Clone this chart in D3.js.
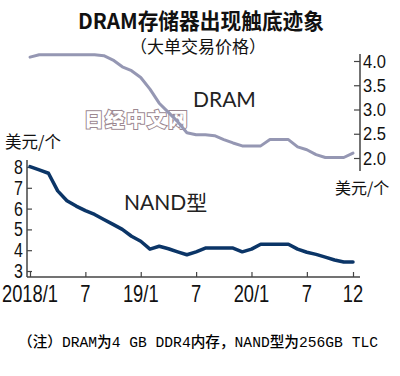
<!DOCTYPE html>
<html><head><meta charset="utf-8">
<script src="https://cdn.jsdelivr.net/npm/d3@7"></script>
<style>
body{margin:0;background:#fff;}
svg{display:block;}
.cond{font-family:"Liberation Sans",Arial,sans-serif;}
</style></head>
<body>
<script>
// ---- data ----
const months = d3.range(36); // 2018/1 .. 2020/12 (month index)
const dramValues = [4.08,4.13,4.13,4.13,4.13,4.13,4.13,4.13,4.11,4.02,3.88,3.80,3.66,3.42,3.13,2.94,2.75,2.52,2.48,2.48,2.46,2.38,2.31,2.25,2.25,2.25,2.38,2.38,2.38,2.23,2.17,2.07,2.01,2.01,2.01,2.10];
const nandValues = [8.02,7.86,7.70,6.85,6.38,6.12,5.90,5.72,5.48,5.24,5.00,4.67,4.43,4.05,4.19,4.07,3.92,3.78,3.92,4.10,4.10,4.10,4.10,3.92,4.05,4.29,4.29,4.29,4.29,4.05,3.90,3.80,3.67,3.53,3.43,3.43];
const xTickIdx = [0,6,12,18,24,30,35];
const xTickLabels = ["2018/1","7","19/1","7","20/1","7","12"];
const nandTicks = [3,4,5,6,7,8];
const dramTicks = [2.0,2.5,3.0,3.5,4.0];

const W = 400, H = 376;
const svg = d3.select("body").append("svg").attr("width", W).attr("height", H);
svg.append("rect").attr("width", W).attr("height", H).attr("fill", "#fff");

const x = d3.scaleLinear().domain([0, 35]).range([30, 353]);
const yN = d3.scaleLinear().domain([3, 8]).range([271, 167]);
const yD = d3.scaleLinear().domain([2, 4]).range([158, 61]);

// titles
svg.append("text").attr("x", 78).attr("y", 29)
  .attr("font-family", "Noto Sans CJK SC, sans-serif").attr("font-weight", "bold")
  .attr("font-size", 21.5).attr("fill", "#111").attr("textLength", 246).attr("lengthAdjust", "spacingAndGlyphs")
  .text("DRAM存储器出现触底迹象");
svg.append("text").attr("x", 198).attr("y", 53).attr("text-anchor", "middle")
  .attr("font-family", "Noto Sans CJK SC, sans-serif")
  .attr("font-size", 17).attr("fill", "#111").text("（大单交易价格）");

// watermark
svg.append("text").attr("x", 84).attr("y", 127)
  .attr("font-family", "Noto Sans CJK SC, sans-serif").attr("font-weight", 900)
  .attr("font-size", 19.5).attr("letter-spacing", 1.5)
  .attr("fill", "#ffffff").attr("stroke", "#9c8891").attr("stroke-width", 2)
  .attr("paint-order", "stroke").text("日经中文网");

// x axis (bottom)
const xAxis = d3.axisBottom(x).tickValues(xTickIdx).tickSize(-5).tickPadding(0).tickFormat("");
const gx = svg.append("g").attr("transform", "translate(0,277)").call(xAxis);
gx.select(".domain").attr("d", "M27,0H360").attr("stroke", "#444").attr("stroke-width", 1.5);
gx.selectAll(".tick line").attr("stroke", "#444").attr("stroke-width", 1.2);
svg.append("g").selectAll("text").data(xTickIdx).join("text")
  .attr("class", "cond").attr("transform", d => `translate(${x(d)},302) scale(0.78,1)`)
  .attr("text-anchor", "middle").attr("font-size", 23.5).attr("fill", "#111")
  .text((d, i) => xTickLabels[i]);

// left axis (NAND)
const gl = svg.append("g").attr("transform", "translate(27,0)")
  .call(d3.axisRight(yN).tickValues(nandTicks).tickSize(5).tickFormat(""));
gl.select(".domain").attr("d", "M0,160V277").attr("stroke", "#444").attr("stroke-width", 1.5);
gl.selectAll(".tick line").attr("stroke", "#444").attr("stroke-width", 1.2);
svg.append("g").selectAll("text").data(nandTicks).join("text")
  .attr("class", "cond").attr("transform", d => `translate(23,${yN(d) + 7}) scale(0.8,1)`)
  .attr("text-anchor", "end").attr("font-size", 20).attr("fill", "#111").text(d => d);

// right axis (DRAM)
const gr = svg.append("g").attr("transform", "translate(360,0)")
  .call(d3.axisLeft(yD).tickValues(dramTicks).tickSize(6).tickFormat(""));
gr.select(".domain").attr("d", "M0,54V171").attr("stroke", "#444").attr("stroke-width", 1.5);
gr.selectAll(".tick line").attr("stroke", "#444").attr("stroke-width", 1.2);
svg.append("g").selectAll("text").data(dramTicks).join("text")
  .attr("class", "cond").attr("transform", d => `translate(363,${yD(d) + 6.5}) scale(0.92,1)`)
  .attr("text-anchor", "start").attr("font-size", 18).attr("fill", "#111").text(d => d.toFixed(1));

// unit labels
svg.append("text").attr("x", 5).attr("y", 148)
  .attr("font-family", "Noto Sans CJK SC, sans-serif").attr("font-size", 16.5).attr("fill", "#111").text("美元/个");
svg.append("text").attr("x", 335).attr("y", 194)
  .attr("font-family", "Noto Sans CJK SC, sans-serif").attr("font-size", 16).attr("fill", "#111").text("美元/个");

// lines
const lineD = d3.line().x((d, i) => x(months[i])).y(d => yD(d));
const lineN = d3.line().x((d, i) => x(months[i])).y(d => yN(d));
svg.append("path").datum(dramValues).attr("d", lineD).attr("fill", "none")
  .attr("stroke", "#9597b3").attr("stroke-width", 3).attr("stroke-linejoin", "round").attr("stroke-linecap", "round");
svg.append("path").datum(nandValues).attr("d", lineN).attr("fill", "none")
  .attr("stroke", "#0b3567").attr("stroke-width", 3.5).attr("stroke-linejoin", "round").attr("stroke-linecap", "round");

// series labels
svg.append("text").attr("x", 193).attr("y", 107)
  .attr("font-family", "Lato, Noto Sans, sans-serif").attr("font-size", 21).attr("fill", "#222").text("DRAM");
svg.append("text").attr("x", 124).attr("y", 210)
  .attr("font-family", "Lato, Noto Sans CJK SC, sans-serif").attr("font-size", 21).attr("fill", "#222").text("NAND型");

// footnote
svg.append("text").attr("x", 18).attr("y", 347)
  .attr("font-family", "Liberation Mono, Noto Sans CJK SC, monospace").attr("font-size", 14.5)
  .attr("font-weight", 500)
  .attr("fill", "#000").attr("textLength", 360).attr("lengthAdjust", "spacingAndGlyphs")
  .text("（注）DRAM为4 GB DDR4内存，NAND型为256GB TLC");
</script>
</body></html>
